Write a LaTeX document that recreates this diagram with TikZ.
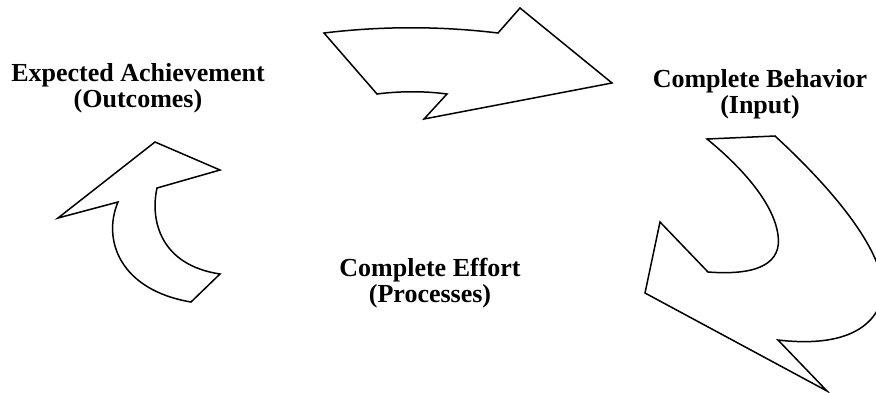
\documentclass[tikz,border=0pt]{standalone}
\usepackage{fontspec}
\setmainfont{Liberation Serif}
\tikzset{
  stagetext/.style={align=center, font=\fontsize{26}{26}\selectfont\bfseries,
                    inner sep=0pt},
  blockarrow/.style={draw=black, fill=white, line width=1.5pt, line join=miter},
}

\begin{document}
\begin{tikzpicture}[x=1pt, y=-1pt]
    \useasboundingbox (0,0) rectangle (876,392);
    \clip (0,0) rectangle (876,392);
    % top arrow
    \draw[blockarrow] (324,33) .. controls (382,26) and (440,26) .. (498,33)
        -- (520,8) -- (612,83) -- (424,119) -- (447,94)
        .. controls (425,91) and (400,91) .. (377,94) -- cycle;
    % right arrow
    \draw[blockarrow] (707,139) -- (775,136)
        .. controls (850,205) and (895,270) .. (880,305)
        .. controls (865,340) and (820,345) .. (778,340)
        -- (827,391) -- (645,293) -- (660,222) -- (708,272)
        .. controls (760,276) and (782,262) .. (778,235)
        .. controls (774,205) and (745,170) .. (707,139) -- cycle;
    % left arrow
    \draw[blockarrow] (155,142) -- (220,170) -- (157,188)
        .. controls (150,220) and (160,265) .. (220,274)
        -- (191,302)
        .. controls (120,290) and (102,240) .. (118,202)
        -- (58,218) -- cycle;
    \node[stagetext] (outcomes) at (138,88) {Expected Achievement\\(Outcomes)};
    \node[stagetext] (input) at (760,94) {Complete Behavior\\(Input)};
    \node[stagetext] (processes) at (430,283) {Complete Effort\\(Processes)};
\end{tikzpicture}
\end{document}
